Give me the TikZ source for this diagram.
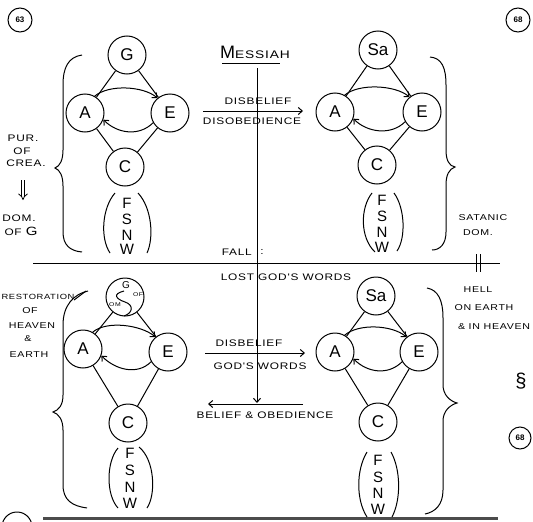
\documentclass[tikz,border=0pt]{standalone}
\usepackage{fontspec}
\setmainfont{Liberation Sans}
\newfontfamily\hand[FakeStretch=1.25,LetterSpace=8]{Liberation Sans}
\usetikzlibrary{arrows.meta,calc}
\newcommand\dgraph[6]{%
 \node[nd] (#1t) at (#3) {#2};
 \node[nd] (#1a) at (#4) {A};
 \node[nd] (#1e) at (#5) {E};
 \node[nd] (#1c) at (#6) {C};
 \draw[ln] (#1t) -- (#1a);
 \draw[ln] (#1t) -- (#1e);
 \draw[ln] (#1a) -- (#1c);
 \draw[ln] (#1e) -- (#1c);
 \draw[arr] (#1a.60) .. controls ($(#1a.60)+(14,-12)$) and ($(#1e.130)+(-14,-12)$) .. (#1e.130);
 \draw[arr] (#1e.210) .. controls ($(#1e.210)+(-14,14)$) and ($(#1a.340)+(14,14)$) .. (#1a.340);
}
\newcommand\fsnw[6]{%
 \node[fl] (#1f) at (#2,#3) {F};
 \node[fl] (#1s) at (#2,#4) {S};
 \node[fl] (#1n) at (#2,#5) {N};
 \node[fl] (#1w) at (#2,#6) {W};
}
\begin{document}
\begin{tikzpicture}[x=1pt,y=-1pt,
 nd/.style={circle,draw,line width=1pt,minimum size=38pt,inner sep=0pt,font=\fontsize{17}{17}\selectfont},
 ln/.style={line width=1pt},
 arr/.style={line width=1pt,-{Straight Barb[length=4pt,width=7pt]}},
 lb/.style={inner sep=0pt,font=\hand\fontsize{9.5}{10}\selectfont},
 sl/.style={inner sep=0pt,font=\hand\fontsize{8.5}{9}\selectfont},
 sm/.style={inner sep=0pt,font=\hand\fontsize{7.5}{8}\selectfont},
 fl/.style={inner sep=0pt,font=\fontsize{15}{15}\selectfont},
 num/.style={circle,draw,line width=1pt,minimum size=24pt,inner sep=0pt,font=\fontsize{8}{8}\selectfont\bfseries}]
\useasboundingbox (0,0) rectangle (533,522);
\clip (0,0) rectangle (533,522);

% page numbers
\node[num] (n63) at (20,20) {63};
\node[num] (n68a) at (518,20) {68};
\node[num,minimum size=22pt] (n68b) at (520,438) {68};
\draw[ln] (17,527) circle (15);
\draw[line width=3pt,black!70] (43,518) -- (498,518);

% four graphs
\dgraph{tl}{G}{127,55}{85,113}{170,113}{125,167}
\dgraph{tr}{Sa}{378,50}{335,112}{422,112}{377,165}
\dgraph{bl}{}{125,297}{83,349}{168,352}{128,423}
\dgraph{br}{Sa}{376,296}{335,352}{419,352}{378,422}

% yin-yang G
\draw[ln] (124,291) .. controls (112,294) and (116,299) .. (125,302) .. controls (134,305) and (133,313) .. (124,316);
\node[inner sep=0pt,font=\fontsize{10}{10}\selectfont] (blg) at (126,285) {G};
\node[inner sep=0pt,font=\hand\fontsize{5.5}{6}\selectfont] (blof) at (138,295) {OF};
\node[inner sep=0pt,font=\hand\fontsize{5.5}{6}\selectfont] (blom) at (115,305) {OM};

% FSNW
\fsnw{tl}{127}{203}{219}{235}{249}
\fsnw{tr}{382}{200}{216}{232}{247}
\fsnw{bl}{130}{453}{470}{487}{503}
\fsnw{br}{378}{460}{477}{493}{509}
\draw[ln] (115,193) .. controls (102,208) and (100,238) .. (110,253);
\draw[ln] (138,193) .. controls (152,208) and (154,238) .. (147,253);
\draw[ln] (372,193) .. controls (360,208) and (360,238) .. (375,252);
\draw[ln] (394,193) .. controls (405,208) and (406,238) .. (397,251);
\draw[ln] (118,448) .. controls (106,462) and (106,495) .. (118,508);
\draw[ln] (139,447) .. controls (155,460) and (156,495) .. (147,508);
\draw[ln] (367,452) .. controls (356,470) and (356,500) .. (367,517);
\draw[ln] (391,452) .. controls (401,470) and (401,500) .. (392,517);

% braces
\draw[ln] (82,55) .. controls (68,57) and (63,68) .. (63,85) -- (63,150) .. controls (63,160) and (60,166) .. (55,168) .. controls (60,170) and (63,176) .. (63,186) -- (63,232) .. controls (63,245) and (70,251) .. (82,252);
\draw[ln] (430,57) .. controls (442,58) and (446,68) .. (446,85) -- (446,150) .. controls (446,160) and (449,166) .. (455,167) .. controls (449,169) and (446,175) .. (446,185) -- (446,232) .. controls (446,244) and (440,250) .. (432,250);
\draw[ln] (88,291) .. controls (74,294) and (63,305) .. (63,325) -- (63,395) .. controls (63,405) and (59,410) .. (53,412) .. controls (59,414) and (63,420) .. (63,430) -- (63,485) .. controls (63,500) and (72,506) .. (87,508);
\draw[ln] (74,300) -- (86,291);
\draw[ln] (427,288) .. controls (438,290) and (443,300) .. (443,318) -- (443,385) .. controls (443,395) and (450,401) .. (457,403) .. controls (450,405) and (443,411) .. (443,421) -- (443,490) .. controls (443,505) and (435,512) .. (425,514);

% side texts
\node[lb] (pur) at (23,138) {PUR.};
\node[lb] (pof) at (22,151) {OF};
\node[lb] (crea) at (26,163) {CREA.};
\coordinate (da1) at (23,180);
\coordinate (da2) at (23,200);
\draw[line width=0.8pt,double distance=2.5pt,-{Implies}] (da1) -- (da2);
\node[lb] (dom) at (19,218) {DOM.};
\node[lb] (ofg) at (21,231) {OF {\fontsize{12}{12}\selectfont G}};

\node[sm] (rest) at (38,297) {RESTORATION};
\node[sl] (rof) at (30,311) {OF};
\node[sl] (heav) at (32,326) {HEAVEN};
\node[sl] (amp) at (28,339) {\&};
\node[sl] (earth) at (29,355) {EARTH};

\node[sl] (sat) at (483,218) {SATANIC};
\node[sl] (sdom) at (478,233) {DOM.};
\node[sl] (hell) at (478,290) {HELL};
\node[sl] (oe) at (484,308) {ON EARTH};
\node[sl] (ih) at (494,327) {\& IN HEAVEN};
\node[inner sep=0pt,font=\fontsize{20}{20}\selectfont] (sect) at (521,381) {\S};

% centre
\node[inner sep=0pt] (mes) at (255,52) {\fontsize{18}{18}\selectfont M\hand\fontsize{11}{11}\selectfont ESSIAH};
\coordinate (ul1) at (222,63);
\coordinate (ul2) at (280,63);
\draw[ln] (ul1) -- (ul2);
\coordinate (vt) at (257,68);
\coordinate (vb) at (257,403);
\draw[arr] (vt) -- (vb);

\coordinate (h1s) at (203,111);
\coordinate (h1e) at (303,111);
\draw[arr] (h1s) -- (h1e);
\node[lb] (db1) at (258,101) {DISBELIEF};
\node[lb] (dob) at (252,121) {DISOBEDIENCE};

\coordinate (f1) at (33,263);
\coordinate (f2) at (500,263);
\draw[ln] (f1) -- (f2);
\draw[ln] (476,254) -- (476,272);
\draw[ln] (480,254) -- (480,272);
\node[lb,anchor=east] (fall) at (252,252) {FALL};
\node[lb] (colon) at (262,252) {:};
\node[lb] (lost) at (286,277) {LOST GOD'S WORDS};

\coordinate (h2s) at (205,353);
\coordinate (h2e) at (305,353);
\draw[arr] (h2s) -- (h2e);
\node[lb] (db2) at (249,343) {DISBELIEF};
\node[lb] (gw) at (260,366) {GOD'S WORDS};

\coordinate (h3s) at (303,404);
\coordinate (h3e) at (208,404);
\draw[arr] (h3s) -- (h3e);
\node[lb] (bo) at (265,415) {BELIEF \& OBEDIENCE};
\end{tikzpicture}
\end{document}
